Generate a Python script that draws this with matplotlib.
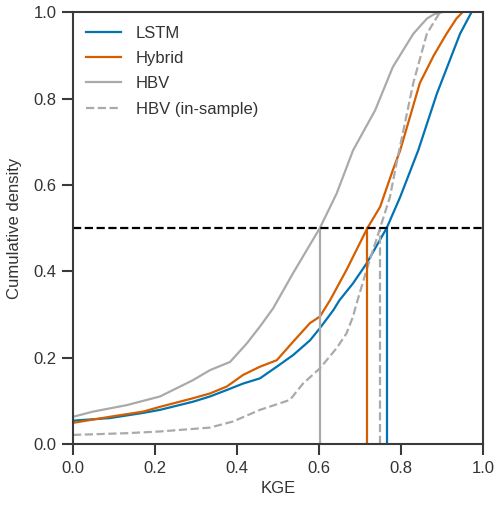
import matplotlib
matplotlib.use("Agg")
import matplotlib.pyplot as plt

plt.rcParams['font.family'] = ['Liberation Sans', 'DejaVu Sans']

labels = ["LSTM", "Hybrid", "HBV", "HBV (in-sample)"]
colors = ["#0173b2", "#d55e00", "#aaaaaa", "#aaaaaa"]
styles = ["-", "-", "-", "--"]

lstm_kge = [0.0, 0.09, 0.171, 0.212, 0.293, 0.334, 0.375, 0.415, 0.456, 0.497, 0.537, 0.578, 0.602,
            0.635, 0.65, 0.683, 0.716, 0.765, 0.798, 0.842, 0.887, 0.944, 0.972]
lstm_cdf = [0.054, 0.06, 0.072, 0.079, 0.098, 0.11, 0.125, 0.14, 0.152, 0.179, 0.206, 0.24, 0.268,
            0.31, 0.333, 0.372, 0.418, 0.50, 0.572, 0.68, 0.81, 0.95, 1.0]

hybrid_kge = [0.0, 0.09, 0.171, 0.212, 0.293, 0.334, 0.375, 0.415, 0.456, 0.497, 0.537, 0.578, 0.602,
              0.627, 0.667, 0.718, 0.749, 0.78, 0.798, 0.846, 0.88, 0.911, 0.935, 0.95]
hybrid_cdf = [0.049, 0.063, 0.075, 0.086, 0.106, 0.117, 0.133, 0.16, 0.179, 0.194, 0.237, 0.28, 0.295,
              0.333, 0.403, 0.50, 0.549, 0.634, 0.68, 0.836, 0.9, 0.95, 0.985, 1.0]

hbv_kge = [0.0, 0.049, 0.131, 0.212, 0.293, 0.334, 0.383, 0.424, 0.456, 0.488, 0.537, 0.602, 0.643,
           0.683, 0.737, 0.78, 0.83, 0.863, 0.88, 0.9]
hbv_cdf = [0.063, 0.075, 0.09, 0.11, 0.148, 0.171, 0.19, 0.233, 0.272, 0.314, 0.396, 0.50, 0.58,
           0.68, 0.773, 0.873, 0.95, 0.985, 0.995, 1.0]

ins_kge = [0.0, 0.131, 0.212, 0.334, 0.39, 0.456, 0.529, 0.561, 0.602, 0.643, 0.667, 0.683, 0.69,
           0.716, 0.749, 0.773, 0.789, 0.83, 0.863, 0.895]
ins_cdf = [0.021, 0.025, 0.029, 0.038, 0.052, 0.079, 0.102, 0.14, 0.175, 0.222, 0.256, 0.295, 0.32,
           0.403, 0.50, 0.572, 0.65, 0.836, 0.95, 1.0]

medians = [0.765, 0.718, 0.602, 0.748]

xticks = [0.0, 0.2, 0.4, 0.6, 0.8, 1.0]
yticks = [0.0, 0.2, 0.4, 0.6, 0.8, 1.0]

series = [(lstm_kge, lstm_cdf), (hybrid_kge, hybrid_cdf), (hbv_kge, hbv_cdf), (ins_kge, ins_cdf)]

fig = plt.figure(figsize=(5.0, 5.08), dpi=100)
ax = fig.add_axes([0.146, 0.126, 0.82, 0.85])

for (k, c), lab, col, ls in zip(series, labels, colors, styles):
    ax.plot(k, c, color=col, ls=ls, lw=1.6, label=lab)

for m, col, ls in zip(medians, colors, styles):
    ax.plot([m, m], [0, 0.5], color=col, ls=ls, lw=1.6)

ax.axhline(0.5, color="black", ls="--", lw=1.6)

ax.set_xlim(0, 1)
ax.set_ylim(0, 1)
ax.set_xticks(xticks)
ax.set_yticks(yticks)
ax.set_xticklabels([f"{t:.1f}" for t in xticks])
ax.set_yticklabels([f"{t:.1f}" for t in yticks])
ax.set_xlabel("KGE", fontsize=12, color="#333333", labelpad=4)
ax.set_ylabel("Cumulative density", fontsize=12, color="#333333", labelpad=8)

for sp in ax.spines.values():
    sp.set_linewidth(1.5)
    sp.set_color("#3a3a3a")
ax.tick_params(axis="both", direction="out", length=8, width=1.5, color="#3a3a3a",
               labelsize=12, labelcolor="#333333", pad=4)

leg = ax.legend(loc="upper left", frameon=False, fontsize=12, handlelength=2.1,
                handletextpad=0.85, borderaxespad=0.4, labelspacing=0.62)
for t in leg.get_texts():
    t.set_color("#333333")

fig.savefig("out.png", dpi=100)
